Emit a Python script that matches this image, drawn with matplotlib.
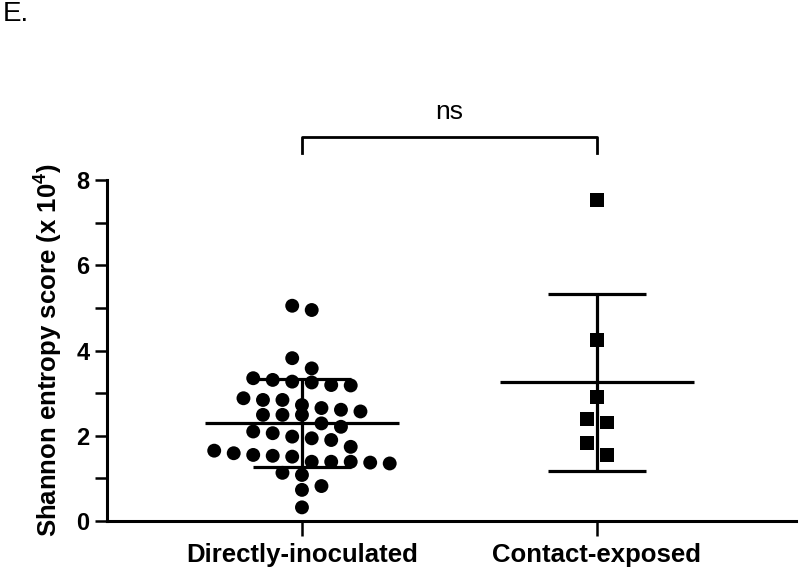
import numpy as np
import matplotlib
matplotlib.use("Agg")
import matplotlib.pyplot as plt

plt.rcParams['font.family'] = ['Liberation Sans', 'DejaVu Sans']
plt.rcParams['mathtext.fontset'] = 'custom'
plt.rcParams['mathtext.rm'] = 'Liberation Sans:bold'
plt.rcParams['mathtext.it'] = 'Liberation Sans:bold'
plt.rcParams['mathtext.bf'] = 'Liberation Sans:bold'

# Data (Shannon entropy score x 10^4)
groups = ['Directly-inoculated', 'Contact-exposed']
direct = [4.95, 5.05, 3.82, 3.58, 3.35, 3.31, 3.18, 3.19, 3.25, 3.27,
          2.84, 2.88, 2.84, 2.72, 2.61, 2.49, 2.57, 2.49, 2.65, 2.49,
          2.21, 2.29, 2.10, 1.94, 1.90, 2.06, 1.98, 1.74, 1.53, 1.37,
          1.39, 1.39, 1.59, 1.51, 1.65, 1.39, 1.55, 1.35, 1.13, 1.08,
          0.82, 0.73, 0.32]
contact = [7.54, 4.25, 2.90, 2.39, 2.31, 1.82, 1.55]
markers = ['o', 's']
sig_label = 'ns'

# Figure geometry
W, H, DPI = 800, 574, 100
fig = plt.figure(figsize=(W / DPI, H / DPI), dpi=DPI)
ax = fig.add_axes([107 / W, 1 - 521 / H, (796 - 107) / W, (521 - 180) / H])
xlim = (0.339, 2.675)
ylim = (0, 8)
ax.set_xlim(*xlim)
ax.set_ylim(*ylim)

# pixel scales for the swarm layout
px_x = (796 - 107) / (xlim[1] - xlim[0])
px_y = (521 - 180) / (ylim[1] - ylim[0])
row_px = 15.5
step_px = 19.5


def swarm(vals, center):
    # prism-like rows, built top-down; points in a row spread symmetrically
    vals = np.asarray(vals, dtype=float)
    order = np.argsort(-vals, kind='stable')
    row_h = row_px / px_y
    xs = np.zeros(len(vals))
    i = 0
    while i < len(order):
        start = vals[order[i]]
        j = i
        while j < len(order) and vals[order[j]] >= start - row_h:
            j += 1
        idx = order[i:j]
        n = len(idx)
        offs = (np.arange(n) - (n - 1) / 2.0) * step_px / px_x
        xs[idx] = center + offs
        i = j
    return xs


for i, (vals, m) in enumerate(zip([direct, contact], markers)):
    c = i + 1
    xs = swarm(vals, c)
    ax.scatter(xs, vals, marker=m, s=100, color='black',
               edgecolors='none', zorder=2, clip_on=False)
    mu = np.mean(vals)
    sd = np.std(vals, ddof=1)
    ax.hlines(mu, c - 0.33, c + 0.33, color='black', lw=2.3, zorder=3)
    ax.hlines([mu - sd, mu + sd], c - 0.165, c + 0.165, color='black', lw=2.3, zorder=3)
    ax.vlines(c, mu - sd, mu + sd, color='black', lw=2.3, zorder=3)

# significance bracket
ax.plot([1, 1, 2, 2], [8.64, 9.01, 9.01, 8.64], color='black', lw=2.0,
        clip_on=False)
ax.text(1.5, 9.44, sig_label, ha='center', va='baseline', fontsize=19)

# axes styling
for s in ['top', 'right']:
    ax.spines[s].set_visible(False)
for s in ['left', 'bottom']:
    ax.spines[s].set_linewidth(2.2)

ax.set_yticks([0, 2, 4, 6, 8])
ax.set_yticks([1, 3, 5, 7], minor=True)
ax.set_xticks([1, 2])
ax.set_xticklabels(groups, fontsize=18.5, fontweight='bold')
ax.tick_params(axis='y', which='both', direction='out', length=9, width=1.8,
               pad=3.5, labelsize=17)
ax.tick_params(axis='x', direction='out', length=11, width=1.8, pad=5)
for t in ax.get_yticklabels():
    t.set_fontweight('bold')

ax.set_ylabel('Shannon entropy score (x 10$^{4}$)', fontsize=18.5,
              fontweight='bold', labelpad=8)

fig.text(0.003, 0.998, 'E.', ha='left', va='top', fontsize=20)

fig.savefig('out.png', dpi=DPI)
